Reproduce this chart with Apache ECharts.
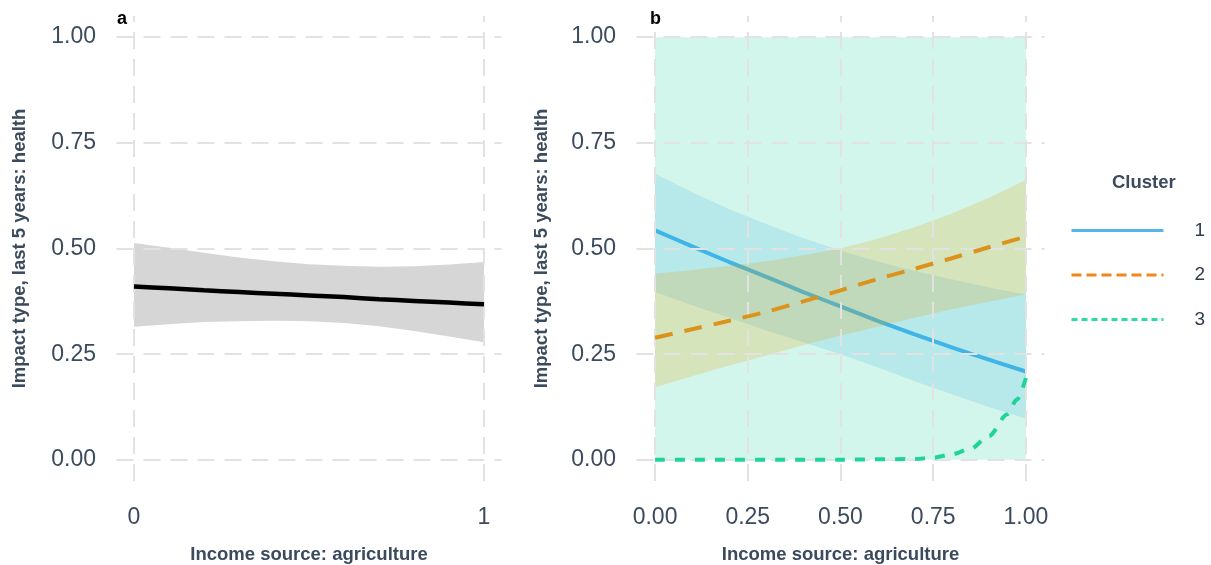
<!DOCTYPE html>
<html>
<head>
<meta charset="utf-8">
<script src="https://cdn.jsdelivr.net/npm/echarts@6/dist/echarts.min.js"></script>
<style>
  html, body { margin: 0; padding: 0; background: #ffffff; }
  #chart { width: 1211px; height: 565px; }
</style>
</head>
<body>
<div id="chart"></div>
<script>
// Panel a: overall predicted probability with confidence band
const xsA  = [0, 0.1, 0.2, 0.3, 0.4, 0.5, 0.6, 0.7, 0.8, 0.9, 1.0];
const fitA = [0.410, 0.406, 0.401, 0.397, 0.393, 0.389, 0.385, 0.380, 0.376, 0.372, 0.368];
const loA  = [0.315, 0.321, 0.326, 0.328, 0.329, 0.328, 0.324, 0.316, 0.305, 0.292, 0.278];
const hiA  = [0.513, 0.502, 0.490, 0.479, 0.470, 0.463, 0.459, 0.457, 0.458, 0.462, 0.468];

// Panel b: predictions by cluster
const xsB  = [0, 0.1, 0.2, 0.3, 0.4, 0.5, 0.6, 0.7, 0.8, 0.9, 1.0];
const fit1 = [0.543, 0.505, 0.468, 0.433, 0.397, 0.363, 0.329, 0.297, 0.266, 0.237, 0.209];
const lo1  = [0.397, 0.366, 0.336, 0.306, 0.278, 0.250, 0.219, 0.186, 0.155, 0.125, 0.098];
const hi1  = [0.677, 0.633, 0.593, 0.558, 0.524, 0.495, 0.469, 0.447, 0.427, 0.408, 0.391];
const fit2 = [0.289, 0.309, 0.329, 0.350, 0.375, 0.401, 0.428, 0.452, 0.477, 0.503, 0.528];
const lo2  = [0.172, 0.198, 0.223, 0.247, 0.271, 0.294, 0.315, 0.336, 0.356, 0.374, 0.391];
const hi2  = [0.440, 0.449, 0.459, 0.470, 0.484, 0.500, 0.523, 0.550, 0.583, 0.620, 0.662];
const xs3  = [0, 0.5, 0.7, 0.75, 0.8, 0.85, 0.9, 0.95, 0.975, 1.0];
const fit3 = [0, 0.0005, 0.002, 0.005, 0.013, 0.026, 0.056, 0.108, 0.142, 0.194];
const band3X = [0, 1];
const lo3  = [0, 0];
const hi3  = [1, 1];

const clusters = ['1', '2', '3'];
const yTicks   = [0, 0.25, 0.5, 0.75, 1];
const xTicksA  = [0, 1];
const xTicksB  = [0, 0.25, 0.5, 0.75, 1];

const FONT = "'Liberation Sans', Arial, sans-serif";
const TXT = '#3b4a5c';
const GRID = '#e2e2e2';

const pairs = (xs, ys) => xs.map((x, i) => [x, ys[i]]);

// Ribbon between lower and upper bounds, drawn as one polygon in data space
function band(gridIdx, xs, lo, hi, fill, z) {
  return {
    type: 'custom', xAxisIndex: gridIdx, yAxisIndex: gridIdx, silent: true, z: z,
    clip: false,
    data: xs.map((x, i) => [x, lo[i], hi[i]]),
    encode: { x: 0, y: [1, 2] },
    renderItem: function (params, api) {
      if (params.dataIndex !== 0) return null;
      const pts = [];
      for (let i = 0; i < xs.length; i++) pts.push(api.coord([xs[i], hi[i]]));
      for (let i = xs.length - 1; i >= 0; i--) pts.push(api.coord([xs[i], lo[i]]));
      return { type: 'polygon', shape: { points: pts }, style: { fill: fill } };
    }
  };
}

function gridLines(gridIdx, xTicks) {
  return {
    type: 'line', xAxisIndex: gridIdx, yAxisIndex: gridIdx, data: [], z: 0, silent: true,
    markLine: {
      silent: true, symbol: ['none', 'none'], animation: false,
      label: { show: false },
      lineStyle: { color: GRID, width: 2, type: [17, 10] },
      data: yTicks.map(v => ({ yAxis: v })).concat(xTicks.map(v => ({ xAxis: v })))
    }
  };
}

function xAxis(gridIdx, ticks, fmt) {
  return {
    type: 'value', gridIndex: gridIdx, min: -0.05, max: 1.05,
    axisLine: { show: false }, axisTick: { show: false }, splitLine: { show: false },
    axisLabel: { customValues: ticks, formatter: fmt, color: TXT, fontSize: 23, fontFamily: FONT, margin: 25 },
    name: 'Income source: agriculture', nameLocation: 'middle', nameGap: 64,
    nameTextStyle: { color: TXT, fontSize: 18.5, fontWeight: 'bold', fontFamily: FONT }
  };
}

function yAxis(gridIdx, gap) {
  return {
    type: 'value', gridIndex: gridIdx, min: -0.05, max: 1.05,
    axisLine: { show: false }, axisTick: { show: false }, splitLine: { show: false },
    axisLabel: { customValues: yTicks, formatter: v => v.toFixed(2), color: TXT, fontSize: 23, fontFamily: FONT, margin: 20.5, padding: [3, 0, 0, 0] },
    name: 'Impact type, last 5 years: health', nameLocation: 'middle', nameGap: gap,
    nameTextStyle: { color: TXT, fontSize: 18.5, fontWeight: 'bold', fontFamily: FONT }
  };
}

const chart = echarts.init(document.getElementById('chart'), null, { renderer: 'canvas', width: 1211, height: 565 });

chart.setOption({
  animation: false,
  backgroundColor: '#ffffff',
  title: [
    { text: 'a', left: 112, top: 5, textStyle: { fontSize: 18, fontWeight: 'bold', color: '#000', fontFamily: FONT } },
    { text: 'b', left: 645, top: 5, textStyle: { fontSize: 18, fontWeight: 'bold', color: '#000', fontFamily: FONT } },
    { text: 'Cluster', left: 1107, top: 168, textStyle: { fontSize: 18.5, fontWeight: 'bold', color: TXT, fontFamily: FONT } }
  ],
  grid: [
    { left: 116.5, top: 16, width: 385, height: 465, containLabel: false, outerBoundsMode: 'none' },
    { left: 636.5, top: 16, width: 408, height: 465, containLabel: false, outerBoundsMode: 'none' }
  ],
  xAxis: [
    xAxis(0, xTicksA, v => String(Math.round(v))),
    xAxis(1, xTicksB, v => v.toFixed(2))
  ],
  yAxis: [yAxis(0, 87), yAxis(1, 85)],
  legend: {
    orient: 'vertical', left: 1070, top: 221, padding: 0,
    itemWidth: 92, itemHeight: 14, itemGap: 25.5,
    itemStyle: { opacity: 0 },
    textStyle: { color: '#2e3b4c', fontSize: 19, lineHeight: 14, fontFamily: FONT, padding: [0, 0, 0, 26] },
    data: [
      { name: clusters[0], itemStyle: { opacity: 0 }, lineStyle: { color: '#56B4E9', width: 3, type: 'solid' } },
      { name: clusters[1], itemStyle: { opacity: 0 }, lineStyle: { color: '#F3861A', width: 3, type: [10, 5] } },
      { name: clusters[2], itemStyle: { opacity: 0 }, lineStyle: { color: '#2EDCA0', width: 3, type: [6, 4] } }
    ]
  },
  series: [
    gridLines(0, xTicksA),
    gridLines(1, xTicksB),

    // panel a
    band(0, xsA, loA, hiA, 'rgba(0,0,0,0.16)', 1),
    {
      type: 'line', name: 'overall', xAxisIndex: 0, yAxisIndex: 0, z: 5,
      data: pairs(xsA, fitA), symbol: 'none', smooth: 0.2,
      lineStyle: { color: '#000000', width: 4.5 }
    },

    // panel b
    band(1, band3X, lo3, hi3, 'rgba(31,212,154,0.2)', 1),
    band(1, xsB, lo1, hi1, 'rgba(86,180,233,0.22)', 2),
    {
      type: 'line', name: clusters[0], xAxisIndex: 1, yAxisIndex: 1, z: 3,
      data: pairs(xsB, fit1), symbol: 'none', smooth: 0.2,
      itemStyle: { color: '#3fb4e6' },
      lineStyle: { color: '#3fb4e6', width: 4 }
    },
    band(1, xsB, lo2, hi2, 'rgba(230,159,0,0.2)', 4),
    {
      type: 'line', name: clusters[1], xAxisIndex: 1, yAxisIndex: 1, z: 5,
      data: pairs(xsB, fit2), symbol: 'none', smooth: 0.2,
      itemStyle: { color: '#dc931c' },
      lineStyle: { color: '#dc931c', width: 4, type: [18, 12] }
    },
    {
      type: 'line', name: clusters[2], xAxisIndex: 1, yAxisIndex: 1, z: 6,
      data: pairs(xs3, fit3), symbol: 'none', smooth: 0.3, smoothMonotone: 'x',
      itemStyle: { color: '#1fd49a' },
      lineStyle: { color: '#1fd49a', width: 4, type: [10, 10] }
    }
  ]
});
</script>
</body>
</html>
